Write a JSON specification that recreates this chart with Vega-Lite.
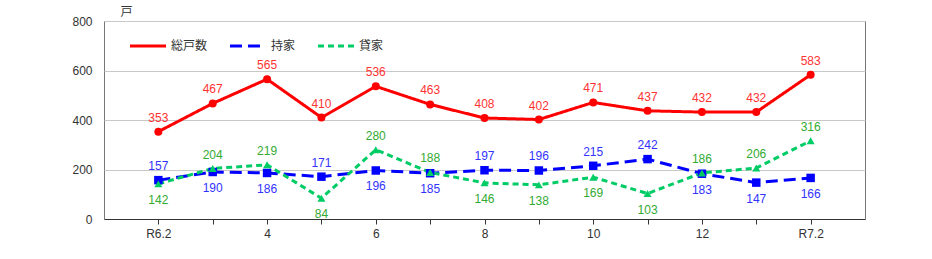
{
  "$schema": "https://vega.github.io/schema/vega-lite/v6.json",
  "width": 761,
  "height": 198,
  "autosize": {"type": "none"},
  "padding": {"left": 104, "top": 21, "right": 67, "bottom": 40},
  "background": "white",
  "config": {
    "view": {"stroke": "#777", "strokeWidth": 1},
    "font": "Liberation Sans",
    "axis": {"labelFont": "Liberation Sans", "labelFontSize": 12, "labelColor": "#333", "titleFont": "Noto Sans CJK JP"},
    "legend": {"labelFont": "Noto Sans CJK JP", "labelFontSize": 12, "labelColor": "#333"}
  },
  "data": {
    "values": [
      {"month": "R6.2", "series": "総戸数", "value": 353},
      {"month": "3", "series": "総戸数", "value": 467},
      {"month": "4", "series": "総戸数", "value": 565},
      {"month": "5", "series": "総戸数", "value": 410},
      {"month": "6", "series": "総戸数", "value": 536},
      {"month": "7", "series": "総戸数", "value": 463},
      {"month": "8", "series": "総戸数", "value": 408},
      {"month": "9", "series": "総戸数", "value": 402},
      {"month": "10", "series": "総戸数", "value": 471},
      {"month": "11", "series": "総戸数", "value": 437},
      {"month": "12", "series": "総戸数", "value": 432},
      {"month": "1", "series": "総戸数", "value": 432},
      {"month": "R7.2", "series": "総戸数", "value": 583},
      {"month": "R6.2", "series": "持家", "value": 157},
      {"month": "3", "series": "持家", "value": 190},
      {"month": "4", "series": "持家", "value": 186},
      {"month": "5", "series": "持家", "value": 171},
      {"month": "6", "series": "持家", "value": 196},
      {"month": "7", "series": "持家", "value": 185},
      {"month": "8", "series": "持家", "value": 197},
      {"month": "9", "series": "持家", "value": 196},
      {"month": "10", "series": "持家", "value": 215},
      {"month": "11", "series": "持家", "value": 242},
      {"month": "12", "series": "持家", "value": 183},
      {"month": "1", "series": "持家", "value": 147},
      {"month": "R7.2", "series": "持家", "value": 166},
      {"month": "R6.2", "series": "貸家", "value": 142},
      {"month": "3", "series": "貸家", "value": 204},
      {"month": "4", "series": "貸家", "value": 219},
      {"month": "5", "series": "貸家", "value": 84},
      {"month": "6", "series": "貸家", "value": 280},
      {"month": "7", "series": "貸家", "value": 188},
      {"month": "8", "series": "貸家", "value": 146},
      {"month": "9", "series": "貸家", "value": 138},
      {"month": "10", "series": "貸家", "value": 169},
      {"month": "11", "series": "貸家", "value": 103},
      {"month": "12", "series": "貸家", "value": 186},
      {"month": "1", "series": "貸家", "value": 206},
      {"month": "R7.2", "series": "貸家", "value": 316}
    ]
  },
  "encoding": {
    "x": {
      "field": "month", "type": "ordinal", "sort": null,
      "scale": {"type": "point", "padding": 1},
      "axis": {
        "title": null, "labelAngle": 0, "grid": false,
        "domainColor": "#333", "tickColor": "#333", "tickSize": 5, "labelPadding": 4,
        "labelExpr": "indexof(['R6.2','4','6','8','10','12','R7.2'], datum.value) >= 0 ? datum.value : ''"
      }
    },
    "y": {
      "field": "value", "type": "quantitative",
      "scale": {"domain": [0, 800], "nice": false},
      "axis": {
        "values": [0, 200, 400, 600, 800], "grid": true, "gridColor": "#c8c8c8",
        "domain": false, "ticks": false, "labelPadding": 12,
        "title": "戸", "titleAngle": 0, "titleX": 22, "titleY": -10,
        "titleAlign": "center", "titleBaseline": "middle", "titleFontSize": 12, "titleFontWeight": "normal", "titleColor": "#333"
      }
    }
  },
  "layer": [
    {
      "mark": {"type": "line", "strokeWidth": 3},
      "encoding": {
        "color": {
          "field": "series", "type": "nominal",
          "scale": {"domain": ["総戸数", "持家", "貸家"], "range": ["#ff0000", "#0000ff", "#00cc66"]},
          "legend": {
            "title": null, "orient": "none", "direction": "horizontal", "legendX": 24, "legendY": 5,
            "symbolType": "stroke", "symbolSize": 1300, "symbolStrokeWidth": 3, "columnPadding": 15, "labelOffset": 3
          }
        },
        "strokeDash": {
          "field": "series", "type": "nominal",
          "scale": {"domain": ["総戸数", "持家", "貸家"], "range": [[1, 0], [12, 6], [6, 4]]},
          "legend": {
            "title": null, "orient": "none", "direction": "horizontal", "legendX": 24, "legendY": 5,
            "symbolType": "stroke", "symbolSize": 1300, "symbolStrokeWidth": 3, "columnPadding": 15, "labelOffset": 3
          }
        }
      }
    },
    {
      "transform": [{"filter": "datum.series === '総戸数'"}],
      "mark": {"type": "point", "filled": true, "opacity": 1, "size": 64, "shape": "circle", "color": "#ff0000"}
    },
    {
      "transform": [{"filter": "datum.series === '持家'"}],
      "mark": {"type": "point", "filled": true, "opacity": 1, "size": 72, "shape": "square", "color": "#0000ff"}
    },
    {
      "transform": [{"filter": "datum.series === '貸家'"}],
      "mark": {"type": "point", "filled": true, "opacity": 1, "size": 64, "shape": "triangle-up", "color": "#00cc66"}
    },
    {
      "transform": [
        {"joinaggregate": [{"op": "min", "field": "value", "as": "minv"}], "groupby": ["month"]},
        {"filter": "datum.value > datum.minv"}
      ],
      "mark": {"type": "text", "dy": -14, "baseline": "middle", "fontSize": 12, "font": "Liberation Sans"},
      "encoding": {
        "text": {"field": "value", "type": "quantitative"},
        "color": {
          "condition": [
            {"test": "datum.series === '総戸数'", "value": "#ff3333"},
            {"test": "datum.series === '持家'", "value": "#3333ff"}
          ],
          "value": "#33aa33"
        }
      }
    },
    {
      "transform": [
        {"joinaggregate": [{"op": "min", "field": "value", "as": "minv"}], "groupby": ["month"]},
        {"filter": "datum.value <= datum.minv"}
      ],
      "mark": {"type": "text", "dy": 16, "baseline": "middle", "fontSize": 12, "font": "Liberation Sans"},
      "encoding": {
        "text": {"field": "value", "type": "quantitative"},
        "color": {
          "condition": [
            {"test": "datum.series === '総戸数'", "value": "#ff3333"},
            {"test": "datum.series === '持家'", "value": "#3333ff"}
          ],
          "value": "#33aa33"
        }
      }
    }
  ]
}
